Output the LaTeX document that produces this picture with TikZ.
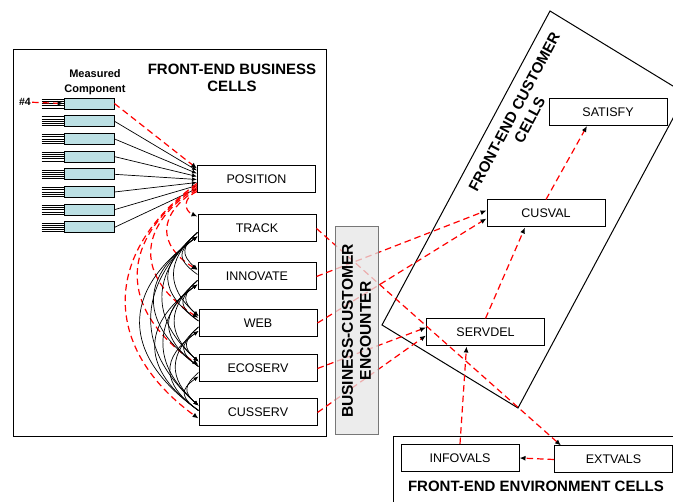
\documentclass[tikz,border=0pt]{standalone}
\usepackage{fontspec}
\setmainfont{Liberation Sans}
\usetikzlibrary{arrows.meta}

\definecolor{barfill}{HTML}{BCE0E4}
\definecolor{encfill}{HTML}{E6E6E6}
\definecolor{encline}{HTML}{777777}

\begin{document}
\begin{tikzpicture}[x=1pt,y=-1pt,
  cell/.style={draw, line width=1pt, minimum width=118pt, minimum height=27pt,
    inner sep=0pt, font=\fontsize{12.5}{14}\selectfont},
  bar/.style={draw, line width=0.8pt, fill=barfill, minimum width=50pt,
    minimum height=11pt, inner sep=0pt},
  title/.style={font=\bfseries\fontsize{15}{17.5}\selectfont, align=center, inner sep=0pt},
  flow/.style={red, line width=1.2pt, dash pattern=on 6.5pt off 4pt,
    -{Latex[length=6pt,width=5pt,color=black]}},
  link/.style={black, line width=0.7pt, -{Latex[length=5pt,width=4pt]}},
  frame/.style={line width=1pt},
]
\useasboundingbox (0,0) rectangle (673,502);
\clip (0,0) rectangle (673,502);

% ---- frames -------------------------------------------------------------
\draw[frame] (13,50) rectangle (326,437);
\draw[frame] (550,11) -- (382,325) -- (518,408) -- (686,94) -- cycle;
\draw[frame] (393,510) -- (393,437) -- (680,437);

% ---- titles -------------------------------------------------------------
\node[title] (tbus) at (232,78) {FRONT-END BUSINESS\\CELLS};
\node[title, rotate=61.9] (tcus) at (522,116) {FRONT-END CUSTOMER\\CELLS};
\node[title] (tenv) at (536,486) {FRONT-END ENVIRONMENT CELLS};
\node[font=\bfseries\fontsize{11}{15}\selectfont, align=center, inner sep=0pt]
  (tmeas) at (95,82) {Measured\\Component};

% ---- measured components ----------------------------------------------
\foreach \i in {1,...,8} {
  \node[bar] (m\i) at (89,{103.5+17.7*(\i-1)}) {};
  \foreach \k in {0,...,4} {
    \pgfmathsetmacro{\dy}{-4.4+2.2*\k}
    \draw[line width=0.6pt] (m\i.west) ++(-22,\dy) -- +(22,0);
  }
}
\node[font=\bfseries\fontsize{10.5}{12}\selectfont, inner sep=1pt] (h4) at (25,102) {\#4};

% ---- business cells -----------------------------------------------------
\node[cell] (POSITION) at (256.5,179.5) {POSITION};
\node[cell] (TRACK)    at (257,228.5)   {TRACK};
\node[cell] (INNOVATE) at (257,276.5)   {INNOVATE};
\node[cell] (WEB)      at (258,323)     {WEB};
\node[cell] (ECOSERV)  at (258,368.5)   {ECOSERV};
\node[cell] (CUSSERV)  at (258,412.5)   {CUSSERV};

% ---- customer and environment cells ------------------------------------
\node[cell] (SATISFY)  at (608,112)     {SATISFY};
\node[cell] (CUSVAL)   at (546,213.5)   {CUSVAL};
\node[cell] (SERVDEL)  at (485.5,332.5) {SERVDEL};
\node[cell] (INFOVALS) at (460,458)     {INFOVALS};
\node[cell] (EXTVALS)  at (613.5,459.5) {EXTVALS};

% ---- measurements feeding POSITION -------------------------------------
\draw[flow] (h4) -- (m1.west);
\draw[flow] (m1.east) -- ([yshift=11pt]POSITION.west);
\foreach \i/\s in {2/9,3/6,4/3,5/0,6/-3,7/-6,8/-9}
  \draw[link] (m\i.east) -- ([yshift=\s pt]POSITION.west);

% ---- POSITION to the other business cells ------------------------------
\foreach \t/\s/\e/\a/\h in {TRACK/-12/12/14/6, INNOVATE/-10/6.5/40/25,
    WEB/-8/5/62/40, ECOSERV/-6/3.5/80/55, CUSSERV/-4/-6/96/70}
  \draw[flow] ([yshift=\s pt]POSITION.west) .. controls +(-\a,\h) and +(-\a,-\h) ..
    ([yshift=\e pt]\t.west);

% ---- links among the business cells ------------------------------------
\foreach \p/\q/\d in {TRACK/INNOVATE/48, TRACK/WEB/94.5, TRACK/ECOSERV/140,
    TRACK/CUSSERV/184, INNOVATE/WEB/46.5, INNOVATE/ECOSERV/92,
    INNOVATE/CUSSERV/136, WEB/ECOSERV/45.5, WEB/CUSSERV/89.5,
    ECOSERV/CUSSERV/44} {
  \draw[link] ([yshift=-4pt]\p.west) .. controls +(-0.34*\d,0.3*\d) and +(-0.34*\d,-0.3*\d) ..
    ([yshift=7pt]\q.west);
  \draw[link] ([yshift=2pt]\q.west) .. controls +(-0.42*\d,-0.3*\d) and +(-0.42*\d,0.3*\d) ..
    ([yshift=-8pt]\p.west);
}

% ---- flows across the encounter ----------------------------------------
\draw[flow] (TRACK.east) -- ([xshift=7pt]EXTVALS.north west);
\draw[flow] (INNOVATE.east) -- ([yshift=3pt]CUSVAL.west);
\draw[flow] (WEB.east) -- ([yshift=-5pt]CUSVAL.west);
\draw[flow] (ECOSERV.east) -- ([yshift=5pt]SERVDEL.west);
\draw[flow] (CUSSERV.east) -- ([yshift=-3pt]SERVDEL.west);
\draw[flow] (SERVDEL.north) -- ([xshift=-21pt]CUSVAL.south);
\draw[flow] (CUSVAL.north) -- ([xshift=-21pt]SATISFY.south);
\draw[flow] (INFOVALS.north) -- ([xshift=-19pt]SERVDEL.south);
\draw[flow] (EXTVALS.west) -- (INFOVALS.east);

% ---- encounter band (translucent, over the flows) -----------------------
\node[draw=encline, fill=encfill, fill opacity=0.75, line width=1pt,
  minimum width=43pt, minimum height=208pt, inner sep=0pt] (enc) at (356.5,331) {};
\node[title, font=\bfseries\fontsize{15.6}{18}\selectfont, rotate=90] (tenc) at (enc.center)
  {BUSINESS-CUSTOMER\\ENCOUNTER};
\end{tikzpicture}
\end{document}
